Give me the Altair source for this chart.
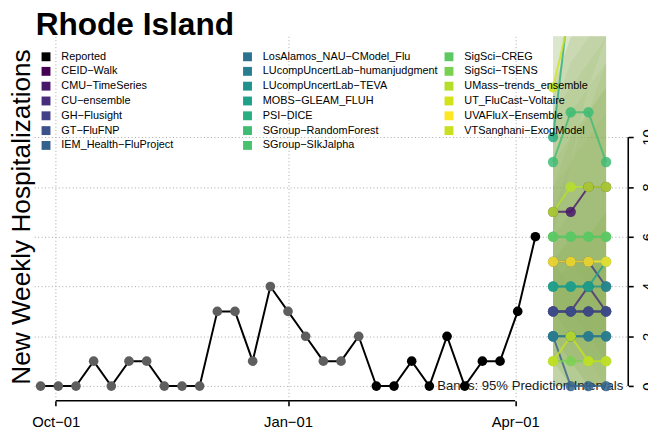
import altair as alt
import pandas as pd

# ---------------- data ----------------
report_dates = pd.date_range("2022-09-25", periods=29, freq="7D")
reported = [0, 0, 0, 1, 0, 1, 1, 0, 0, 0, 3, 3, 1, 4, 3, 2, 1, 1, 2,
            0, 0, 1, 0, 2, 0, 1, 1, 3, 6]
reported_group = ["earlier"] * 19 + ["recent"] * 10

forecast_dates = ["2023-04-16", "2023-04-23", "2023-04-30", "2023-05-07"]

models = ["CEID-Walk", "CMU-TimeSeries", "CU-ensemble", "GH-Flusight", "GT-FluFNP",
          "IEM_Health-FluProject", "LosAlamos_NAU-CModel_Flu",
          "LUcompUncertLab-humanjudgment", "LUcompUncertLab-TEVA", "MOBS-GLEAM_FLUH",
          "PSI-DICE", "SGroup-RandomForest", "SGroup-SIkJalpha", "SigSci-CREG",
          "SigSci-TSENS", "UMass-trends_ensemble", "UT_FluCast-Voltaire",
          "UVAFluX-Ensemble", "VTSanghani-ExogModel"]
model_colors = ["#440154", "#48186a", "#472d7b", "#424086", "#3b528b", "#33638d",
                "#2c728e", "#287d8e", "#21918c", "#1fa088", "#28ae80", "#3fbc73",
                "#4ac16d", "#5ec962", "#7ad151", "#b5de2b", "#d2e21b", "#fde725",
                "#c8e020"]

medians = {
    "CEID-Walk": [3, 3, 3, 3],
    "CMU-TimeSeries": [7, 7, 8, 8],
    "CU-ensemble": [3, 3, 4, 3],
    "GH-Flusight": [5, 5, 5, 4],
    "GT-FluFNP": [3, 3, 3, 3],
    "IEM_Health-FluProject": [2, 0, 0, 0],
    "LosAlamos_NAU-CModel_Flu": [2, 2, 2, 2],
    "LUcompUncertLab-humanjudgment": [2, 2, 2, 2],
    "LUcompUncertLab-TEVA": [4, 4, 4, 4],
    "MOBS-GLEAM_FLUH": [4, 4, 4, 5],
    "PSI-DICE": [10, 16, 22, 28],
    "SGroup-RandomForest": [9, 11, 11, 9],
    "SGroup-SIkJalpha": [6, 6, 6, 6],
    "SigSci-CREG": [6, 6, 6, 6],
    "SigSci-TSENS": [1, 1, 1, 1],
    "UMass-trends_ensemble": [7, 8, 8, 8],
    "UT_FluCast-Voltaire": [12, 15, 18, 21],
    "UVAFluX-Ensemble": [5, 5, 5, 5],
    "VTSanghani-ExogModel": [1, 2, 1, 1],
}
lower95 = {
    "CEID-Walk": [0, 0, 0, 0], "CMU-TimeSeries": [3, 2, 2, 1],
    "CU-ensemble": [1, 0, 0, 0], "GH-Flusight": [2, 1, 1, 0],
    "GT-FluFNP": [1, 0, 0, 0], "IEM_Health-FluProject": [0, 0, 0, 0],
    "LosAlamos_NAU-CModel_Flu": [0, 0, 0, 0], "LUcompUncertLab-humanjudgment": [0, 0, 0, 0],
    "LUcompUncertLab-TEVA": [1, 1, 0, 0], "MOBS-GLEAM_FLUH": [1, 1, 0, 0],
    "PSI-DICE": [6, 9, 12, 14], "SGroup-RandomForest": [4, 5, 4, 3],
    "SGroup-SIkJalpha": [2, 2, 1, 1], "SigSci-CREG": [2, 2, 1, 1],
    "SigSci-TSENS": [0, 0, 0, 0], "UMass-trends_ensemble": [3, 3, 2, 2],
    "UT_FluCast-Voltaire": [6, 8, 9, 10], "UVAFluX-Ensemble": [2, 1, 1, 1],
    "VTSanghani-ExogModel": [0, 0, 0, 0],
}
upper95 = {
    "CEID-Walk": [7, 9, 11, 12], "CMU-TimeSeries": [12, 14, 16, 18],
    "CU-ensemble": [6, 8, 9, 10], "GH-Flusight": [9, 11, 12, 13],
    "GT-FluFNP": [6, 7, 8, 8], "IEM_Health-FluProject": [5, 4, 4, 4],
    "LosAlamos_NAU-CModel_Flu": [5, 6, 6, 7], "LUcompUncertLab-humanjudgment": [5, 6, 6, 7],
    "LUcompUncertLab-TEVA": [8, 9, 10, 11], "MOBS-GLEAM_FLUH": [8, 10, 11, 13],
    "PSI-DICE": [15, 25, 35, 45], "SGroup-RandomForest": [15, 18, 19, 18],
    "SGroup-SIkJalpha": [11, 12, 13, 14], "SigSci-CREG": [11, 13, 14, 15],
    "SigSci-TSENS": [4, 5, 5, 5], "UMass-trends_ensemble": [12, 14, 15, 16],
    "UT_FluCast-Voltaire": [20, 26, 32, 38], "UVAFluX-Ensemble": [9, 10, 11, 12],
    "VTSanghani-ExogModel": [4, 5, 5, 5],
}

x_ticks = [alt.DateTime(year=2022, month=10, date=1),
           alt.DateTime(year=2023, month=1, date=1),
           alt.DateTime(year=2023, month=4, date=1)]
y_ticks = [0, 2, 4, 6, 8, 10]
band_note = ["Bands: 95% Prediction Intervals"]
chart_title = ["Rhode Island"]

# ---------------- tables ----------------
rep_df = pd.DataFrame({"date": report_dates, "value": reported, "group": reported_group})
fc_rows = []
for m in models:
    for i, d in enumerate(forecast_dates):
        fc_rows.append({"model": m, "date": pd.Timestamp(d), "median": medians[m][i],
                        "lo": lower95[m][i], "hi": upper95[m][i]})
fc_df = pd.DataFrame(fc_rows)
note_df = pd.DataFrame({"label": band_note})
title_df = pd.DataFrame({"label": chart_title})
axis_df = pd.DataFrame({"start": [pd.Timestamp("2022-10-01")], "end": [pd.Timestamp("2023-04-01")]})

# legend order (Vega fills the columns top to bottom)
legend_order = ["Reported"] + models
legend_colors = ["#000000"] + model_colors

FONT = "Liberation Sans"
W, H = 600, 365
GRID = "#a8a8a8"
xs = alt.Scale(domain=[alt.DateTime(year=2022, month=9, date=22, hours=6),
                       alt.DateTime(year=2023, month=5, date=15)])
ys = alt.Scale(domain=[-0.43, 14.05], nice=False, zero=False)
cs = alt.Scale(domain=legend_order, range=legend_colors)

x_axis = alt.Axis(values=x_ticks, title=None, domain=False, tickSize=5, tickWidth=1.6,
                  tickColor="black", offset=4, labelFontSize=15, labelFont=FONT,
                  labelColor="black", labelPadding=9, grid=True, gridDash=[1, 2.5],
                  gridColor=GRID,
                  labelExpr="timeFormat(datum.value, '%b') + '\u2212' + timeFormat(datum.value, '%d')")
y_left = alt.Axis(orient="left", title="New Weekly Hospitalizations", labels=False, ticks=False,
                  domain=False, grid=False, titleFontSize=26.5, titleFont=FONT,
                  titleFontWeight="normal", titleColor="black", minExtent=0, titlePadding=-2)
y_right = alt.Axis(orient="right", values=y_ticks, title=None, domain=False, tickSize=5,
                   tickWidth=1.6, tickColor="black", offset=2, labelAngle=-90,
                   labelFontSize=15, labelFont=FONT, labelColor="black", labelPadding=8,
                   grid=True, gridDash=[1, 2.5], gridColor=GRID)
legend = alt.Legend(
    orient="none", legendX=7, legendY=15, columns=3, symbolType="square",
    symbolSize=81, symbolStrokeWidth=0, symbolOpacity=1, labelFontSize=11, labelFont=FONT,
    labelColor="black", labelLimit=400, rowPadding=3, columnPadding=5,
    gridAlign="all", labelOffset=10, title=None, padding=0,
    labelExpr="replace(datum.label, /-/g, '\u2212')")

X = alt.X("date:T", scale=xs, axis=x_axis)

bands = alt.Chart(fc_df).mark_area(color="#8cb055", opacity=0.11, clip=True).encode(
    x=X,
    y=alt.Y("lo:Q", scale=ys, axis=y_left),
    y2="hi:Q",
    detail="model:N",
)

note = alt.Chart(note_df).mark_text(align="right", baseline="middle", fontSize=13.3,
                                    font=FONT, color="#1a1a1a").encode(
    x=alt.value(597),
    y=alt.YDatum(0, scale=ys, axis=None),
    text="label:N",
)

title_mark = alt.Chart(title_df).mark_text(align="left", baseline="alphabetic", fontSize=32,
                                           font=FONT, fontWeight="bold", color="black").encode(
    x=alt.value(2),
    y=alt.value(-1),
    text="label:N",
)

rep_line = alt.Chart(rep_df).mark_line(color="black", strokeWidth=2).encode(
    x=X,
    y=alt.Y("value:Q", scale=ys, axis=y_right),
)
rep_old = alt.Chart(rep_df).transform_filter(alt.datum.group == "earlier").mark_circle(
    size=95, color="#5e5e5e", opacity=1).encode(
    x=X,
    y=alt.Y("value:Q", scale=ys, axis=None),
)
rep_new = alt.Chart(rep_df).transform_filter(alt.datum.group == "recent").mark_circle(
    size=95, color="black", opacity=1).encode(
    x=X,
    y=alt.Y("value:Q", scale=ys, axis=None),
)

fc_lines = alt.Chart(fc_df).mark_line(strokeWidth=2, opacity=0.8, clip=True).encode(
    x=X,
    y=alt.Y("median:Q", scale=ys, axis=None),
    color=alt.Color("model:N", scale=cs, legend=legend),
)
fc_points = alt.Chart(fc_df).mark_circle(size=110, opacity=0.85, clip=True).encode(
    x=X,
    y=alt.Y("median:Q", scale=ys, axis=None),
    color=alt.Color("model:N", scale=cs, legend=legend),
)

x_line = alt.Chart(axis_df).mark_rule(color="black", strokeWidth=1.6).encode(
    x=alt.X("start:T", scale=xs, axis=x_axis),
    x2="end:T",
    y=alt.value(H + 4),
)
y_line = alt.Chart(axis_df).mark_rule(color="black", strokeWidth=1.6).encode(
    x=alt.value(W + 2),
    y=alt.YDatum(0, scale=ys, axis=None),
    y2=alt.Y2Datum(10),
)

chart = alt.layer(bands, note, rep_line, rep_old, rep_new, fc_lines, fc_points, x_line, y_line,
                  title_mark
).resolve_axis(y="independent").properties(
    width=W, height=H,
    background="white",
    autosize=alt.AutoSizeParams(type="none"),
    padding={"left": 26, "top": 26, "right": 22, "bottom": 32},
).configure_view(strokeWidth=0, stroke="transparent")

chart.save("out.html", embed_options={"renderer": "svg", "actions": False})
